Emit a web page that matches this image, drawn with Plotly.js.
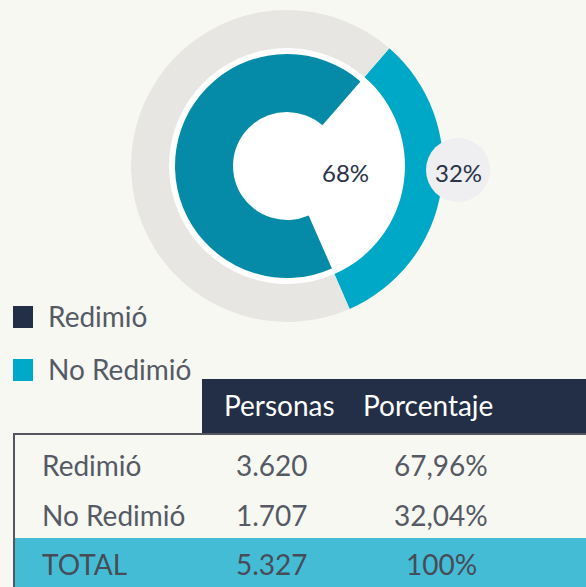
<!DOCTYPE html>
<html>
<head>
<meta charset="utf-8">
<script src="https://cdn.plot.ly/plotly-3.0.1.min.js"></script>
<style>
  html, body { margin: 0; padding: 0; background: #f8f8f3; }
  #chart { width: 586px; height: 587px; }
</style>
</head>
<body>
<div id="chart"></div>
<script>
// ---- data ----
const categories = ['Redimió', 'No Redimió'];
const personas = [3620, 1707];
const porcentaje = [67.96, 32.04];
const totalLabel = 'TOTAL';
const totalPersonas = 5327;
const totalPorcentaje = 100;
const headerLabels = ['Personas', 'Porcentaje'];
const donutLabels = ['68%', '32%'];

// ---- styles ----
const W = 586, H = 587;
const BG = '#f8f8f3';
const NAVY = '#232f46';
const CYAN = '#00a8c7';
const TEAL = '#058ba8';
const GRAY = '#e8e6e3';
const TOTALFILL = '#44bcd6';
const TXT = '#555a65';
const FONT = 'Lato, "Open Sans", sans-serif';
const WT = 400;

const px = x => x / W;
const py = y => 1 - y / H;
function dom(cx, cy, r) {
  return { x: [px(cx - r), px(cx + r)], y: [py(cy + r), py(cy - r)] };
}
function fmtInt(n) {
  return String(n).replace(/\B(?=(\d{3})+(?!\d))/g, '.');
}
function fmtPct(v) {
  return (Number.isInteger(v) ? String(v) : v.toFixed(2).replace('.', ',')) + '%';
}

const CX = 287, CY = 166;
const ROT = 41;

// pie order: No Redimió first (clockwise from ROT), then Redimió
const pieVals = [porcentaje[1], porcentaje[0]];

const outer = {
  type: 'pie', values: pieVals, labels: [categories[1], categories[0]],
  sort: false, direction: 'clockwise', rotation: ROT,
  hole: 118 / 156, domain: dom(CX, CY, 156),
  marker: { colors: [CYAN, GRAY], line: { width: 0 } },
  textinfo: 'none', textposition: 'none', hoverinfo: 'skip', showlegend: false
};
const inner = {
  type: 'pie', values: pieVals, labels: [categories[1] + ' ', categories[0] + ' '],
  sort: false, direction: 'clockwise', rotation: ROT,
  hole: 54 / 112, domain: dom(CX, CY, 112),
  marker: { colors: ['#ffffff', TEAL], line: { width: 0 } },
  textinfo: 'none', textposition: 'none', hoverinfo: 'skip', showlegend: false
};

const shapes = [];
const annotations = [];

// white disc behind inner ring
shapes.push({ type: 'circle', xref: 'paper', yref: 'paper', layer: 'below',
  x0: px(CX - 118), x1: px(CX + 118), y0: py(CY + 118), y1: py(CY - 118),
  fillcolor: '#ffffff', line: { width: 0 } });
// bubble for 32%
shapes.push({ type: 'circle', xref: 'paper', yref: 'paper', layer: 'above',
  x0: px(458 - 32), x1: px(458 + 32), y0: py(170 + 32), y1: py(170 - 32),
  fillcolor: '#efeff2', line: { width: 0 } });

annotations.push({ xref: 'paper', yref: 'paper', x: px(345), y: py(172),
  text: donutLabels[0], showarrow: false, xanchor: 'center', yanchor: 'middle',
  font: { family: FONT, size: 24, color: '#2a3347', weight: WT } });
annotations.push({ xref: 'paper', yref: 'paper', x: px(458), y: py(172),
  text: donutLabels[1], showarrow: false, xanchor: 'center', yanchor: 'middle',
  font: { family: FONT, size: 24, color: '#2a3347', weight: WT } });

// legend
const legColors = [NAVY, '#00a9c8'];
const legY = [317, 370];
categories.forEach((c, i) => {
  shapes.push({ type: 'rect', xref: 'paper', yref: 'paper',
    x0: px(13), x1: px(33), y0: py(legY[i] + 11), y1: py(legY[i] - 11),
    fillcolor: legColors[i], line: { width: 0 } });
  annotations.push({ xref: 'paper', yref: 'paper', x: px(46), y: py(legY[i] - 1),
    text: c, showarrow: false, xanchor: 'left', yanchor: 'middle',
    font: { family: FONT, size: 28, color: TXT, weight: WT } });
});

// table header
shapes.push({ type: 'rect', xref: 'paper', yref: 'paper', layer: 'below',
  x0: px(202), x1: px(586), y0: py(433), y1: py(379),
  fillcolor: NAVY, line: { width: 0 } });
// total row
shapes.push({ type: 'rect', xref: 'paper', yref: 'paper', layer: 'below',
  x0: px(14), x1: px(586), y0: py(587), y1: py(538),
  fillcolor: TOTALFILL, line: { width: 0 } });
// borders
shapes.push({ type: 'line', xref: 'paper', yref: 'paper',
  x0: px(13), x1: px(586), y0: py(434), y1: py(434), line: { color: '#56565e', width: 2 } });
shapes.push({ type: 'line', xref: 'paper', yref: 'paper',
  x0: px(14), x1: px(14), y0: py(433), y1: py(587), line: { color: '#56565e', width: 2 } });

const colX = [279, 428];
headerLabels.forEach((h, i) => {
  annotations.push({ xref: 'paper', yref: 'paper', x: px(colX[i]), y: py(405),
    text: h, showarrow: false, xanchor: 'center', yanchor: 'middle',
    font: { family: FONT, size: 28, color: '#ffffff', weight: WT } });
});

const rowY = [465, 515, 564];
const rows = categories.map((c, i) => [c, fmtInt(personas[i]), fmtPct(porcentaje[i])]);
rows.push([totalLabel, fmtInt(totalPersonas), fmtPct(totalPorcentaje)]);
const cellX = [40, 272, 441];
rows.forEach((r, ri) => {
  r.forEach((t, ci) => {
    annotations.push({ xref: 'paper', yref: 'paper', x: px(cellX[ci]), y: py(rowY[ri]),
      text: t, showarrow: false, xanchor: ci === 0 ? 'left' : 'center', yanchor: 'middle',
      font: { family: FONT, size: 28, color: ri === 2 ? '#474c57' : TXT, weight: WT } });
  });
});

const layout = {
  width: W, height: H,
  margin: { l: 0, r: 0, t: 0, b: 0 },
  paper_bgcolor: BG, plot_bgcolor: BG,
  showlegend: false,
  shapes: shapes, annotations: annotations
};

Plotly.newPlot('chart', [outer, inner], layout, { displayModeBar: false, staticPlot: true });
</script>
</body>
</html>
